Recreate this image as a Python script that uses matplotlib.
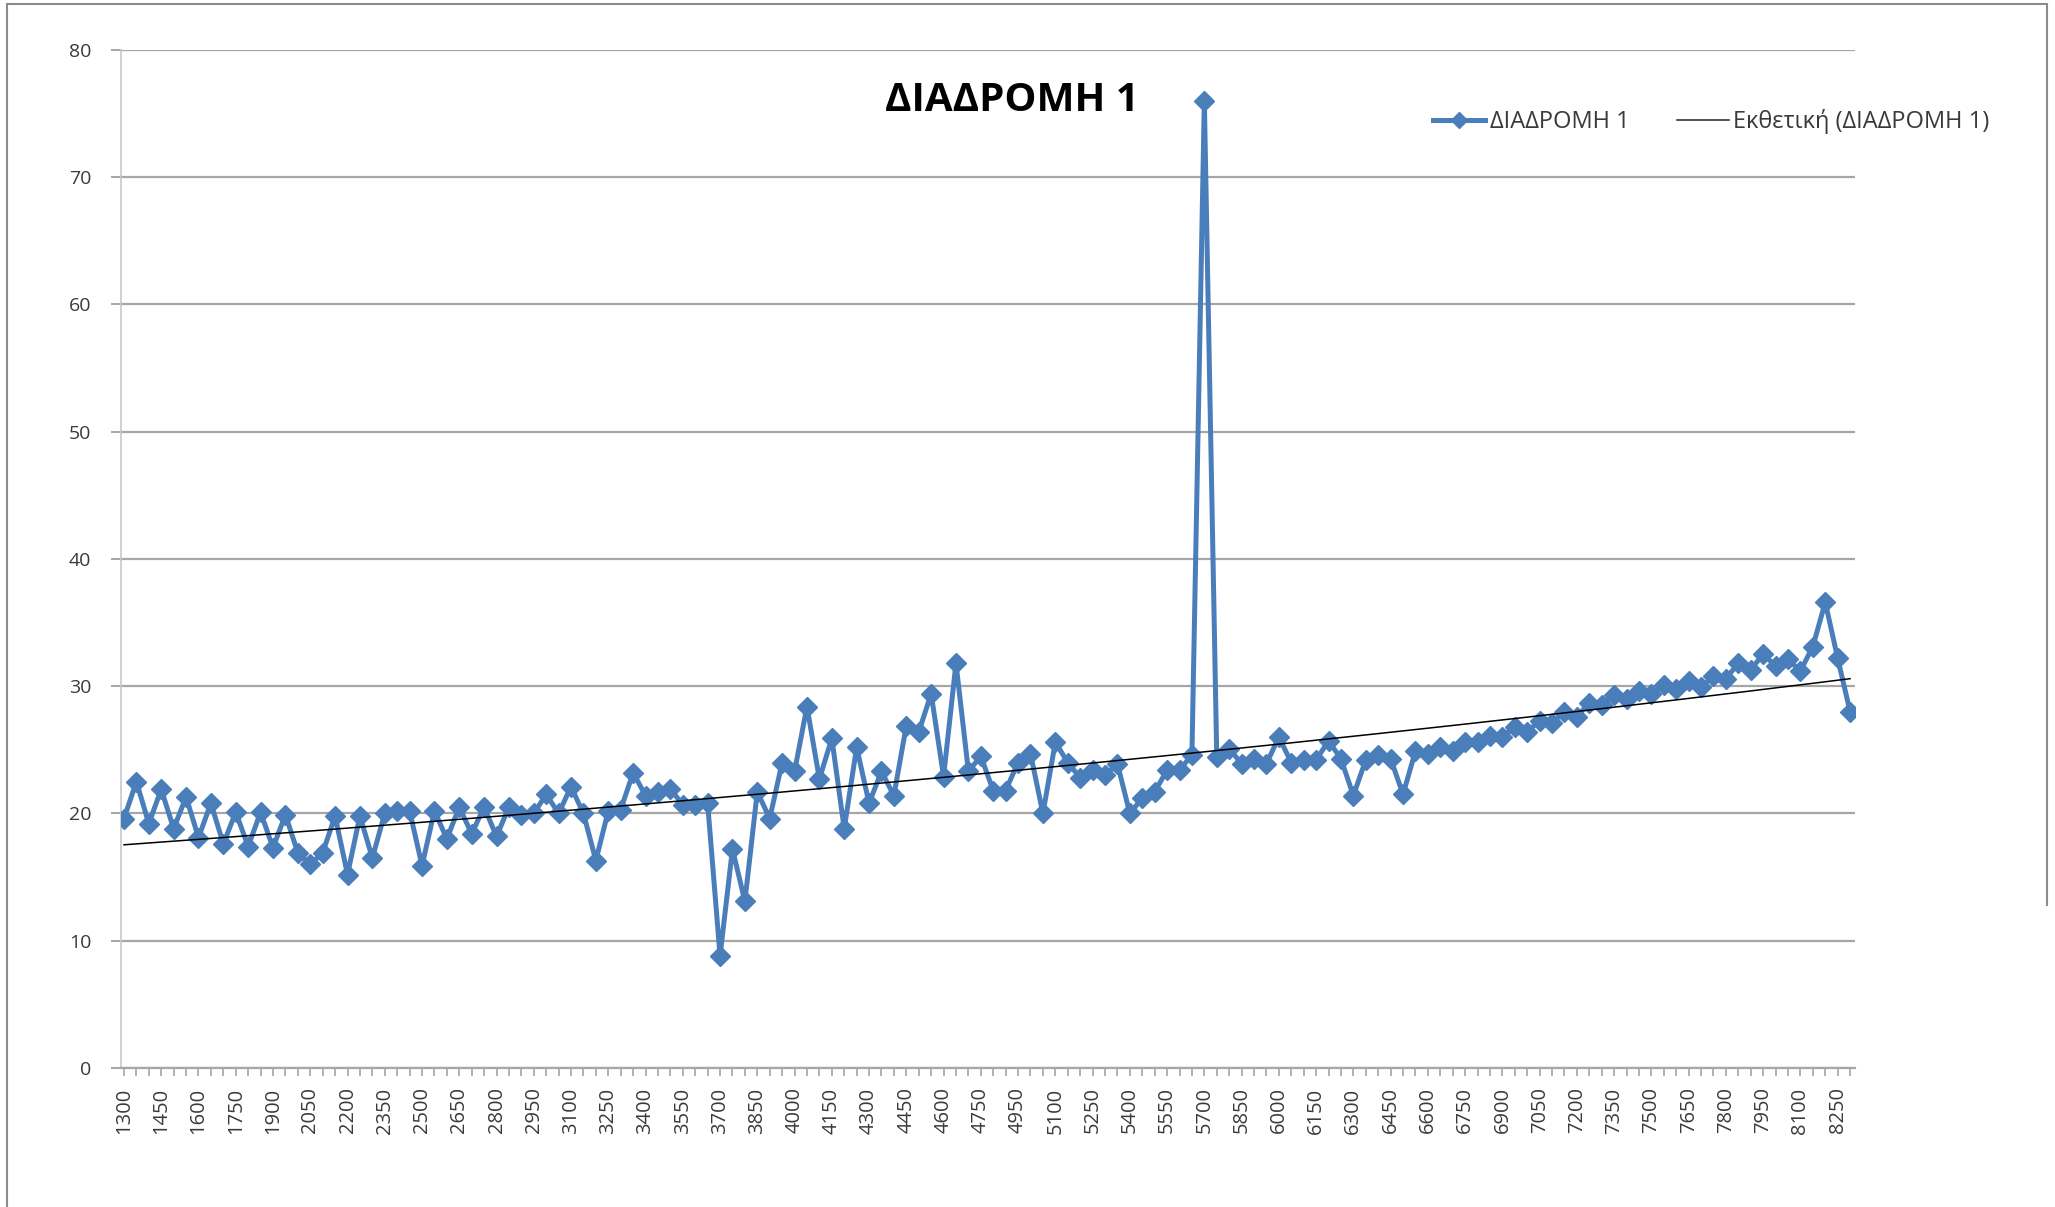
import numpy as np
import matplotlib
matplotlib.use("Agg")
import matplotlib.pyplot as plt
from matplotlib.lines import Line2D

plt.rcParams['font.family'] = ['Open Sans', 'DejaVu Sans']

# categories (route distance); 4900 is absent in the source table
distances = list(range(1300, 4900, 50)) + list(range(4950, 8350, 50))

# measured values for ΔΙΑΔΡΟΜΗ 1
values = [
    19.6, 22.5, 19.2, 21.9, 18.8, 21.3, 18.1, 20.8, 17.6, 20.1,
    17.4, 20.1, 17.3, 19.9, 16.9, 16.0, 16.9, 19.8, 15.2, 19.8,
    16.5, 20.0, 20.2, 20.2, 15.9, 20.2, 18.0, 20.5, 18.4, 20.5,
    18.2, 20.5, 19.9, 20.0, 21.5, 20.0, 22.1, 20.0, 16.3, 20.2,
    20.3, 23.2, 21.4, 21.7, 21.9, 20.7, 20.7, 20.8, 8.8, 17.2,
    13.1, 21.7, 19.6, 24.0, 23.3, 28.4, 22.7, 25.9, 18.8, 25.2,
    20.8, 23.3, 21.4, 26.9, 26.4, 29.4, 22.9, 31.8, 23.3, 24.5,
    21.8, 21.8, 24.0, 24.7, 20.0, 25.6, 24.0, 22.8, 23.4, 23.0,
    23.9, 20.0, 21.2, 21.7, 23.4, 23.4, 24.6, 76.0, 24.4, 25.1,
    23.9, 24.3, 23.9, 26.0, 24.0, 24.2, 24.2, 25.7, 24.3, 21.4,
    24.2, 24.6, 24.3, 21.5, 24.9, 24.7, 25.2, 24.9, 25.6, 25.6,
    26.1, 26.0, 26.8, 26.4, 27.3, 27.1, 28.0, 27.6, 28.7, 28.5,
    29.3, 29.0, 29.6, 29.4, 30.1, 29.8, 30.4, 29.9, 30.8, 30.6,
    31.8, 31.3, 32.5, 31.6, 32.1, 31.2, 33.1, 36.6, 32.2, 28.0,
]

series_name = 'ΔΙΑΔΡΟΜΗ 1'
trend_name = 'Εκθετική (ΔΙΑΔΡΟΜΗ 1)'

blue = '#4a7ebb'
grid_c = '#a6a6a6'
text_c = '#3a3a3a'

x = np.arange(len(values))
y = np.array(values)

# exponential trendline like Excel: y = a*exp(b*k), k = 1..n
b, lna = np.polyfit(x + 1, np.log(y), 1)
trend = np.exp(lna) * np.exp(b * (x + 1))

fig = plt.figure(figsize=(20.55, 12.07), dpi=100)
ax = fig.add_axes([0.0587, 0.1152, 0.844, 0.8435])

ax.plot(x, y, color=blue, lw=3.6, marker='D', markersize=10,
        markerfacecolor=blue, markeredgecolor=blue, zorder=3)
ax.plot(x, trend, color='black', lw=1.1, zorder=4)

ax.set_ylim(0, 80)
ax.set_yticks(range(0, 81, 10))
ax.set_xlim(-0.27, len(values) - 0.6)
ax.set_xticks(x)
ax.set_xticklabels([str(d) if i % 3 == 0 else '' for i, d in enumerate(distances)],
                   rotation=90)

ax.grid(axis='y', color=grid_c, lw=1.6)
ax.set_axisbelow(True)
for s in ['top', 'right']:
    ax.spines[s].set_visible(False)
ax.spines['left'].set_color('#c8c8c8')
ax.spines['left'].set_linewidth(1.2)
ax.spines['bottom'].set_color(grid_c)
ax.spines['bottom'].set_linewidth(1.6)
ax.tick_params(axis='y', length=7, color=grid_c, width=1.4, pad=14,
               labelsize=14, labelcolor=text_c)
ax.tick_params(axis='x', length=6, color=grid_c, width=1.2, pad=8,
               labelsize=14.5, labelcolor=text_c)

fig.text(0.4925, 0.917, series_name, ha='center', va='center',
         fontsize=29, fontweight='bold', color='black')

handles = [Line2D([], [], color=blue, lw=3.6, marker='D', markersize=8),
           Line2D([], [], color='#222222', lw=1.1)]
fig.legend(handles, [series_name, trend_name], loc='center left',
           bbox_to_anchor=(0.687, 0.899), ncol=2, frameon=False,
           fontsize=17, handlelength=2.2, handletextpad=0.2, columnspacing=2.0,
           labelcolor=text_c)

# outer chart frame
frame_c = '#8c8c8c'
fig.add_artist(Line2D([0.0034, 0.0034], [0.0, 0.9967], color=frame_c, lw=1.5))
fig.add_artist(Line2D([0.0034, 0.9961], [0.9967, 0.9967], color=frame_c, lw=1.5))
fig.add_artist(Line2D([0.9961, 0.9961], [0.25, 0.9967], color=frame_c, lw=1.5))

fig.savefig('out.png', dpi=100)
